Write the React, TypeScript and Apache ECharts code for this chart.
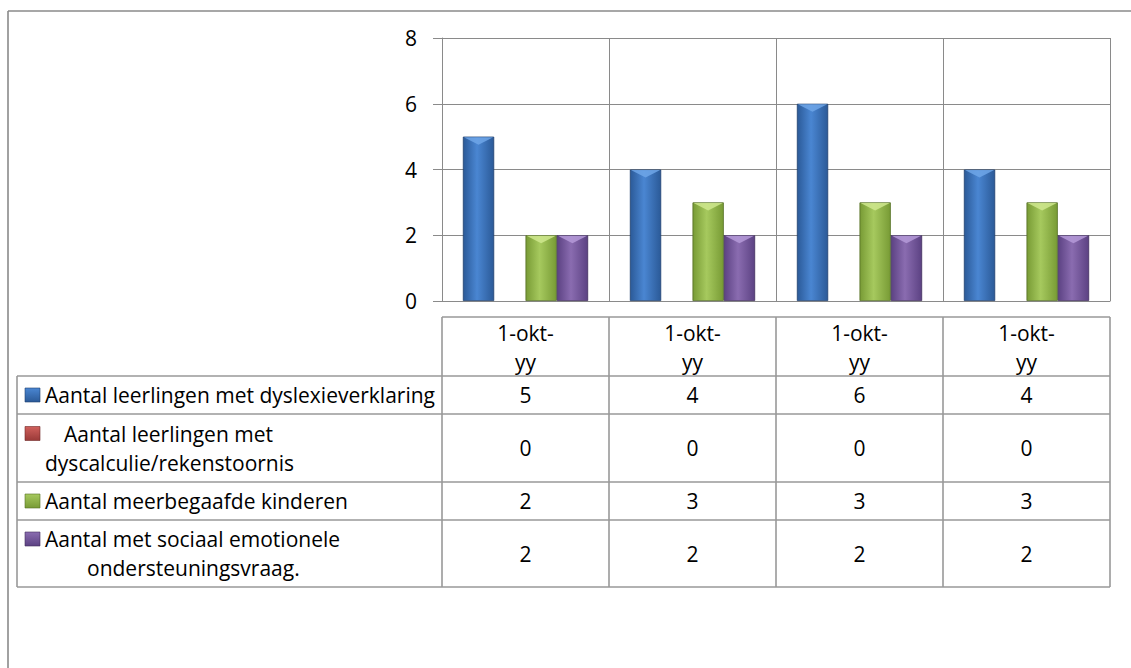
import React, { useEffect, useRef } from "react";
import * as echarts from "echarts";

const categories = ["1-okt-yy", "1-okt-yy", "1-okt-yy", "1-okt-yy"];
const seriesNames = [
  "Aantal leerlingen met dyslexieverklaring",
  "Aantal leerlingen met dyscalculie/rekenstoornis",
  "Aantal meerbegaafde kinderen",
  "Aantal met sociaal emotionele ondersteuningsvraag.",
];
const dyslexie = [5, 4, 6, 4];
const dyscalculie = [0, 0, 0, 0];
const meerbegaafd = [2, 3, 3, 3];
const sociaal = [2, 2, 2, 2];
const seriesValues = [dyslexie, dyscalculie, meerbegaafd, sociaal];
const legendLines = [
  ["Aantal leerlingen met dyslexieverklaring"],
  ["Aantal leerlingen met", "dyscalculie/rekenstoornis"],
  ["Aantal meerbegaafde kinderen"],
  ["Aantal met sociaal emotionele", "ondersteuningsvraag."],
];
const yMin = 0;
const yMax = 8;
const yInterval = 2;

const FONT = "'Open Sans', Lato, sans-serif";
const FS = 21;
const GRID_COLOR = "#8a8a8a";
const TABLE_COLOR = "#999999";

const palettes = [
  { edge: "#2b5a98", mid: "#4a86d2", border: "#1e3f6e", icon: "#3c78c4", top: "#6fa6e8" },
  { edge: "#9a3a38", mid: "#d0605c", border: "#6e2725", icon: "#c0504d", top: "#e58a86" },
  { edge: "#789b35", mid: "#a6c95e", border: "#566f24", icon: "#9bbb59", top: "#cfe88e" },
  { edge: "#5c4283", mid: "#8a6cb0", border: "#3f2c5c", icon: "#8064a2", top: "#b59ad8" },
];

function grad(p: { edge: string; mid: string }) {
  return new echarts.graphic.LinearGradient(0, 0, 1, 0, [
    { offset: 0, color: p.edge },
    { offset: 0.45, color: p.mid },
    { offset: 1, color: p.edge },
  ]);
}

export default function App() {
  const ref = useRef<HTMLDivElement>(null);
  useEffect(() => {
    if (!ref.current) return;
    const chart = echarts.init(ref.current, null, { renderer: "svg" });
    chart.setOption({
      animation: false,
      backgroundColor: "#ffffff",
      textStyle: { fontFamily: FONT },
      grid: { left: 442, right: 21, top: 38, bottom: 367, containLabel: false },
      xAxis: {
        type: "category",
        data: categories,
        axisLine: { show: true, lineStyle: { color: GRID_COLOR, width: 1 } },
        axisTick: { show: false },
        splitLine: { show: true, lineStyle: { color: GRID_COLOR, width: 1 } },
        axisLabel: {
          margin: 17,
          fontSize: FS,
          fontFamily: FONT,
          color: "#000",
          lineHeight: 29,
          verticalAlign: "top",
          interval: 0,
          formatter: (v: string) => v.replace(/-(?=[^-]*$)/, "-\n"),
        },
      },
      yAxis: {
        type: "value",
        min: yMin,
        max: yMax,
        interval: yInterval,
        axisLine: { show: true, lineStyle: { color: GRID_COLOR, width: 1 } },
        axisTick: { show: true, length: 9, lineStyle: { color: GRID_COLOR } },
        splitLine: { show: true, lineStyle: { color: GRID_COLOR, width: 1 } },
        axisLabel: { margin: 25, fontSize: 21, fontFamily: FONT, color: "#000" },
      },
      series: seriesValues.map((vals, i) => ({
        name: seriesNames[i],
        type: "bar",
        data: vals,
        barGap: "0%",
        barCategoryGap: "25%",
        itemStyle: {
          color: grad(palettes[i]),
          borderColor: palettes[i].border,
          borderWidth: vals.some((v) => v > 0) ? 0.8 : 0,
        },
      })),
    });

    const centers = categories.map((_, i) => chart.convertToPixel({ xAxisIndex: 0 }, i) as number);
    const band = centers.length > 1 ? centers[1] - centers[0] : 167;
    const bounds = [centers[0] - band / 2, ...centers.map((c) => c + band / 2)];
    const axisY = chart.convertToPixel({ yAxisIndex: 0 }, 0) as number;
    const tableTop = axisY + 16;
    const headerH = 59;
    const rowHeights = [38, 68, 38, 67];
    const tableLeft = 17;
    const tableRight = bounds[bounds.length - 1];
    const rowTops: number[] = [];
    let y = tableTop + headerH;
    rowHeights.forEach((h) => {
      rowTops.push(y);
      y += h;
    });
    const tableBottom = y;

    const g: any[] = [];
    const lineStyle = { stroke: TABLE_COLOR, lineWidth: 1.6 };
    g.push({ type: "line", shape: { x1: 8, y1: 11, x2: 1140, y2: 11 }, style: { stroke: "#8a8a8a", lineWidth: 1.6 } });
    g.push({ type: "line", shape: { x1: 8, y1: 11, x2: 8, y2: 680 }, style: { stroke: "#8a8a8a", lineWidth: 1.6 } });
    g.push({ type: "line", shape: { x1: bounds[0], y1: tableTop, x2: tableRight, y2: tableTop }, style: lineStyle });
    [...rowTops, tableBottom].forEach((ry) => {
      g.push({ type: "line", shape: { x1: tableLeft, y1: ry, x2: tableRight, y2: ry }, style: lineStyle });
    });
    g.push({ type: "line", shape: { x1: tableLeft, y1: rowTops[0], x2: tableLeft, y2: tableBottom }, style: lineStyle });
    bounds.forEach((bx) => {
      g.push({ type: "line", shape: { x1: bx, y1: tableTop, x2: bx, y2: tableBottom }, style: lineStyle });
    });

    seriesValues.forEach((vals, s) => {
      vals.forEach((v, c) => {
        if (v <= 0) return;
        const layout: any = chart.getModel().getSeriesByIndex(s).getData().getItemLayout(c);
        if (!layout) return;
        const x0 = layout.x;
        const w = layout.width;
        const yTop = layout.y + layout.height;
        g.push({
          type: "polygon",
          shape: { points: [[x0 + 1, yTop + 0.5], [x0 + w - 1, yTop + 0.5], [x0 + w / 2, yTop + 8]] },
          style: { fill: palettes[s].top, opacity: 0.85 },
          z: 10,
        });
      });
    });

    seriesValues.forEach((vals, r) => {
      const cy = rowTops[r] + rowHeights[r] / 2;
      vals.forEach((v, c) => {
        g.push({
          type: "text",
          x: centers[c],
          y: cy,
          style: { text: String(v), font: `${FS}px ${FONT}`, fill: "#000", align: "center", verticalAlign: "middle" },
        });
      });
    });
    const lineOffsets = [[0], [19, 0], [0], [0, 42]];
    legendLines.forEach((lines, r) => {
      const top = rowTops[r];
      const h = rowHeights[r];
      const firstY = lines.length === 1 ? top + h / 2 : top + h / 2 - 14.5;
      g.push({
        type: "rect",
        shape: { x: 25, y: firstY - 7, width: 15, height: 14 },
        style: {
          fill: new echarts.graphic.LinearGradient(0, 0, 0, 1, [
            { offset: 0, color: palettes[r].mid },
            { offset: 1, color: palettes[r].edge },
          ]),
          stroke: palettes[r].border,
          lineWidth: 0.6,
        },
      });
      lines.forEach((t, li) => {
        g.push({
          type: "text",
          x: 45 + lineOffsets[r][li],
          y: firstY + li * 29,
          style: { text: t, font: `${FS}px ${FONT}`, fill: "#000", align: "left", verticalAlign: "middle" },
        });
      });
    });
    chart.setOption({ graphic: g });

    return () => chart.dispose();
  }, []);
  return <div ref={ref} style={{ position: "fixed", left: 0, top: 0, width: 1131, height: 668 }} />;
}
